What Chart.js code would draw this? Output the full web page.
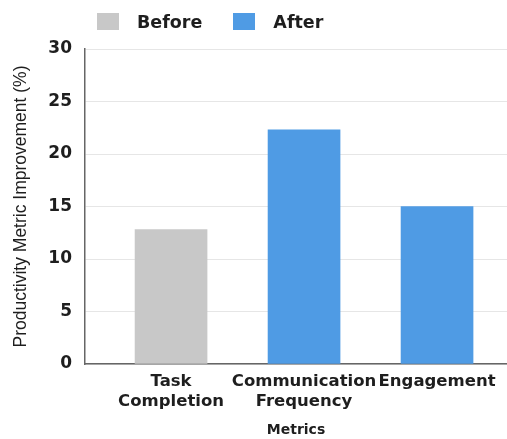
<!DOCTYPE html>
<html>
<head>
<meta charset="utf-8">
<script src="https://cdn.jsdelivr.net/npm/chart.js@4/dist/chart.umd.min.js"></script>
<style>
  html, body { margin: 0; padding: 0; background: #ffffff; }
  #wrap { position: relative; width: 507px; height: 439px; }
  #legend { position: absolute; left: 0; top: 0; height: 43px; display: flex; align-items: center;
            font-family: 'DejaVu Sans', sans-serif; font-weight: bold; font-size: 17.5px; color: #1e1e1e; }
  .item { display: flex; align-items: center; }
  .box { width: 22px; height: 17px; }
  .lbl { margin-left: 18px; }
</style>
</head>
<body>
<div id="wrap">
  <canvas id="c" width="507" height="439"></canvas>
  <div id="legend"></div>
</div>
<script>
const categories = [['Task', 'Completion'], ['Communication', 'Frequency'], 'Engagement'];
const seriesNames = ['Before', 'After'];
const beforeValues = [12.8, null, null];
const afterValues = [null, 22.3, 15.0];
const yTicks = [0, 5, 10, 15, 20, 25, 30];
const xTitle = 'Metrics';
const yTitle = 'Productivity Metric Improvement (%)';

const GRAY = '#c8c8c8';
const BLUE = '#4f9be4';

function toPoints(values) {
  const pts = [];
  values.forEach((v, i) => { if (v !== null) pts.push({ x: i, y: v }); });
  return pts;
}

const htmlLegend = {
  id: 'htmlLegend',
  afterUpdate(chart) {
    const el = document.getElementById('legend');
    el.innerHTML = '';
    chart.data.datasets.forEach((ds, i) => {
      const item = document.createElement('div');
      item.className = 'item';
      item.style.marginLeft = i === 0 ? '97px' : '31px';
      const box = document.createElement('div');
      box.className = 'box';
      box.style.background = ds.backgroundColor;
      const t = document.createElement('span');
      t.className = 'lbl';
      t.textContent = ds.label;
      item.appendChild(box);
      item.appendChild(t);
      el.appendChild(item);
    });
  }
};

new Chart(document.getElementById('c'), {
  type: 'bar',
  data: {
    datasets: [
      { label: seriesNames[0], data: toPoints(beforeValues), backgroundColor: GRAY, grouped: false, barThickness: 72 },
      { label: seriesNames[1], data: toPoints(afterValues), backgroundColor: BLUE, grouped: false, barThickness: 72 }
    ]
  },
  options: {
    responsive: false,
    animation: false,
    devicePixelRatio: 1,
    layout: { padding: { top: 49, right: 0, left: 0, bottom: 0 } },
    plugins: {
      legend: { display: false },
      tooltip: { enabled: false }
    },
    scales: {
      x: {
        type: 'linear',
        offset: false,
        bounds: 'data',
        min: -0.647,
        max: 2.526,
        afterBuildTicks: (scale) => { scale.ticks = categories.map((c, i) => ({ value: i })); },
        afterFit: (scale) => { scale.height = 75; },
        grid: { display: false, drawTicks: false, offset: false },
        border: { display: true, color: '#666666', width: 1.5 },
        ticks: {
          autoSkip: false,
          maxRotation: 0,
          minRotation: 0,
          padding: 8,
          color: '#1e1e1e',
          font: { family: 'DejaVu Sans', weight: 'bold', size: 16.5, lineHeight: 1.2 },
          callback: (v) => categories[v]
        },
        title: {
          display: true,
          text: xTitle,
          color: '#1e1e1e',
          font: { family: 'DejaVu Sans', weight: 'bold', size: 14, lineHeight: 1.2 },
          padding: { top: 10.5, bottom: 0 }
        }
      },
      y: {
        min: 0,
        max: 30,
        afterBuildTicks: (scale) => { scale.ticks = yTicks.map(v => ({ value: v })); },
        afterFit: (scale) => { scale.width = 85; },
        grid: { color: '#e6e6e6', lineWidth: 1, drawTicks: false },
        border: { display: true, color: '#666666', width: 1.5 },
        ticks: {
          padding: 13,
          color: '#1e1e1e',
          font: { family: 'DejaVu Sans', weight: 'bold', size: 17, lineHeight: 1.2 }
        },
        title: {
          display: true,
          text: yTitle,
          color: '#1e1e1e',
          font: { family: 'Liberation Sans', weight: 'normal', size: 17.5, lineHeight: 1.2 },
          padding: { top: 11, bottom: 0 }
        }
      }
    }
  },
  plugins: [htmlLegend]
});
</script>
</body>
</html>
